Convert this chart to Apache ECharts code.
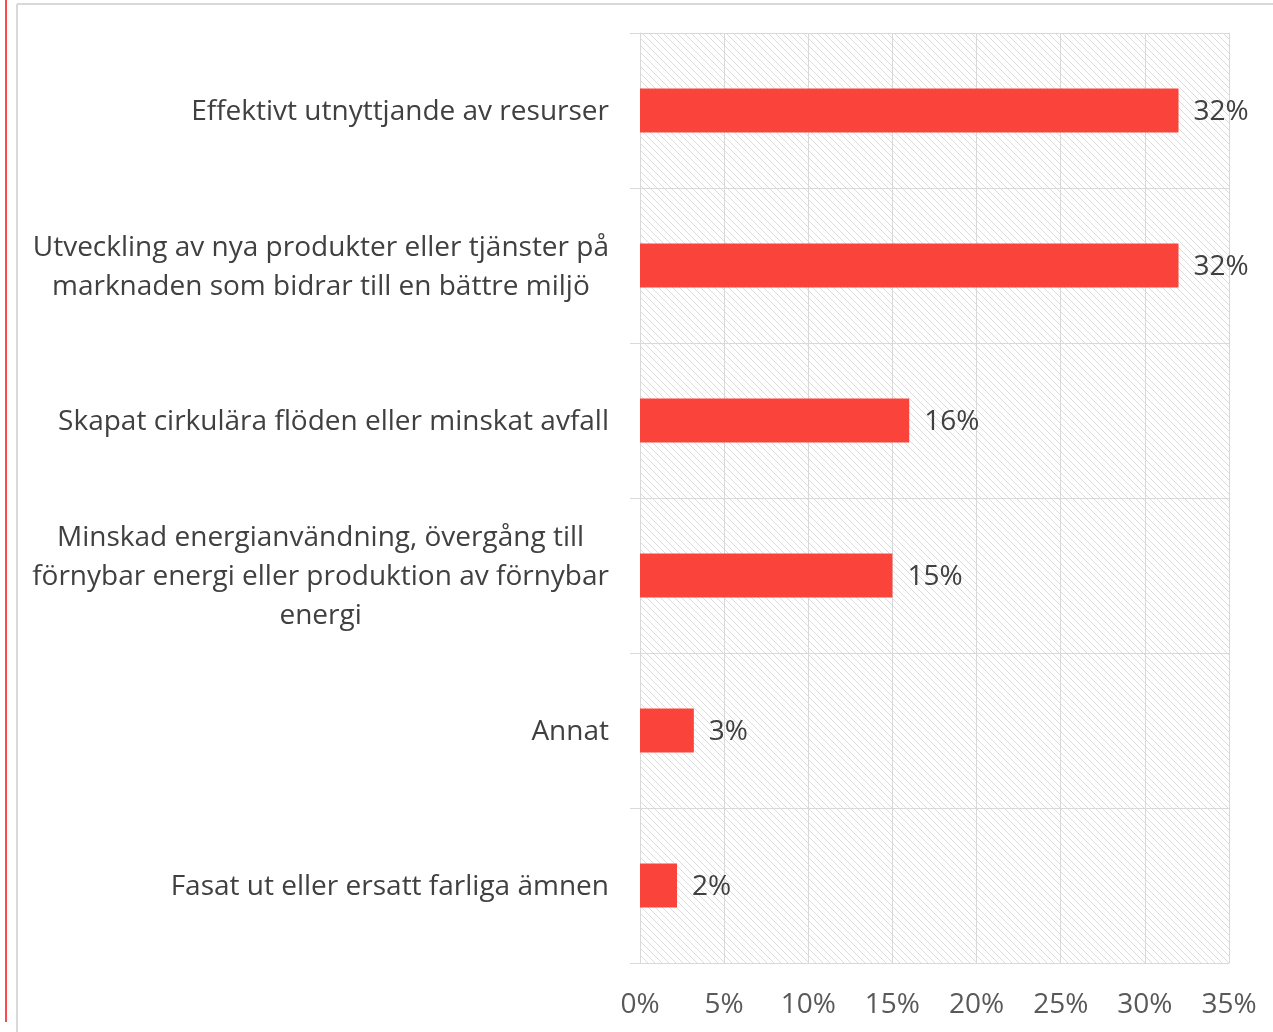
<!DOCTYPE html>
<html>
<head>
<meta charset="utf-8">
<script src="https://cdn.jsdelivr.net/npm/echarts@6/dist/echarts.min.js"></script>
<style>
  html, body { margin: 0; padding: 0; background: #fff; }
  #chart { width: 1273px; height: 1032px; }
</style>
</head>
<body>
<div id="chart"></div>
<script>
const categories = [
  'Effektivt utnyttjande av resurser',
  'Utveckling av nya produkter eller tjänster på\nmarknaden som bidrar till en bättre miljö',
  'Skapat cirkulära flöden eller minskat avfall',
  'Minskad energianvändning, övergång till\nförnybar energi eller produktion av förnybar\nenergi',
  'Annat',
  'Fasat ut eller ersatt farliga ämnen'
];
const shares = [32, 32, 16, 15, 3.2, 2.2];
const xTicks = [0, 5, 10, 15, 20, 25, 30, 35];

// diagonal hatch for plot background
function hatch() {
  const c = document.createElement('canvas');
  c.width = 7; c.height = 7;
  const ctx = c.getContext('2d');
  ctx.fillStyle = '#dcdcdc';
  for (let i = 0; i < 7; i++) ctx.fillRect(i, i, 1, 1);
  return c;
}

const chart = echarts.init(document.getElementById('chart'));
const font = 'Open Sans';

chart.setOption({
  animation: false,
  graphic: [
    { type: 'line', shape: { x1: 6, y1: 0, x2: 6, y2: 1022 }, style: { stroke: '#ff4a4a', lineWidth: 2 } },
    { type: 'line', shape: { x1: 17, y1: 4, x2: 1273, y2: 4 }, style: { stroke: '#d9d9d9', lineWidth: 2 } },
    { type: 'line', shape: { x1: 17, y1: 4, x2: 17, y2: 1032 }, style: { stroke: '#d9d9d9', lineWidth: 2 } }
  ],
  grid: {
    left: 640, right: 44, top: 33, bottom: 69,
    show: true,
    borderWidth: 0,
    backgroundColor: { image: hatch(), repeat: 'repeat' }
  },
  xAxis: {
    type: 'value',
    min: 0, max: 35, interval: 5,
    axisLine: { show: true, lineStyle: { color: '#d9d9d9', width: 1 } },
    axisTick: { show: false },
    splitLine: { show: true, lineStyle: { color: '#d9d9d9', width: 1 } },
    axisLabel: {
      formatter: v => xTicks.includes(v) ? v + '%' : '',
      color: '#595959', fontFamily: font, fontSize: 28, margin: 28
    }
  },
  yAxis: {
    type: 'category',
    inverse: true,
    data: categories,
    axisLine: { show: true, lineStyle: { color: '#d9d9d9', width: 1 } },
    axisTick: { show: true, length: 10, lineStyle: { color: '#d9d9d9' } },
    splitLine: { show: true, lineStyle: { color: '#d9d9d9', width: 1 } },
    axisLabel: {
      margin: 31,
      align: 'right',
      padding: [4, 0, 0, 0],
      formatter: v => v.split('\n').map(s => '{c|' + s + '}').join('\n'),
      rich: {
        c: { align: 'center', color: '#404040', fontFamily: font, fontSize: 28, lineHeight: 39 }
      }
    }
  },
  series: [{
    type: 'bar',
    data: shares,
    barWidth: 44,
    itemStyle: { color: '#fa443b' },
    label: {
      show: true,
      position: 'right',
      distance: 15,
      offset: [0, 2],
      formatter: p => Math.round(p.value) + '%',
      color: '#404040', fontFamily: font, fontSize: 28
    }
  }]
});
</script>
</body>
</html>
